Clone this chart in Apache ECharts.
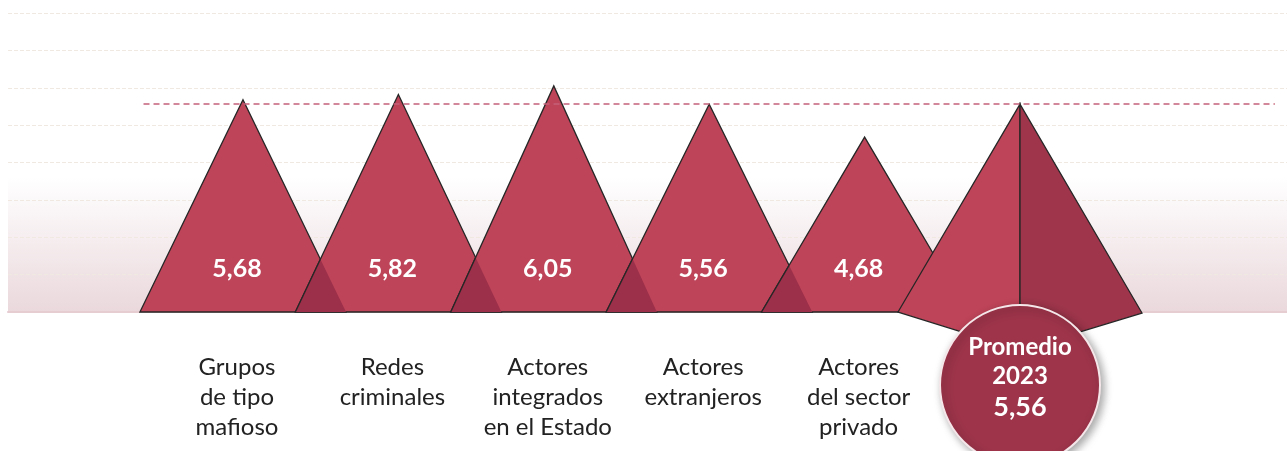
<!DOCTYPE html>
<html>
<head>
<meta charset="utf-8">
<script src="https://cdn.jsdelivr.net/npm/echarts@6/dist/echarts.min.js"></script>
<style>
  html, body { margin: 0; padding: 0; background: #fff; }
  #echart { width: 1287px; height: 451px; }
</style>
</head>
<body>
<div id="echart"></div>
<script>
const categories = ['Grupos\nde tipo\nmafioso', 'Redes\ncriminales', 'Actores\nintegrados\nen el Estado', 'Actores\nextranjeros', 'Actores\ndel sector\nprivado'];
const values = [5.68, 5.82, 6.05, 5.56, 4.68];
const averageTitle = 'Promedio\n2023';
const averageValue = 5.56;
const yTicks = [0, 1, 2, 3, 4, 5, 6, 7, 8];

const chart = echarts.init(document.getElementById('echart'));

const FILL = '#be4459';
const FILL_DARK = '#9c2f4a';
const EDGE = '#262626';

function fmt(v) {
    return v.toFixed(2).replace('.', ',');
}

// intersección de dos segmentos (como rectas)
function cross(a1, a2, b1, b2) {
    const d = (a1[0] - a2[0]) * (b1[1] - b2[1]) - (a1[1] - a2[1]) * (b1[0] - b2[0]);
    const t = ((a1[0] - b1[0]) * (b1[1] - b2[1]) - (a1[1] - b1[1]) * (b1[0] - b2[0])) / d;
    return [a1[0] + t * (a2[0] - a1[0]), a1[1] + t * (a2[1] - a1[1])];
}

function renderTriangle(params, api) {
    const i = api.value(0);
    const v = api.value(1);
    const top = api.coord([i, v]);
    const base = api.coord([i, 0]);
    const hw = api.size([1, 0])[0] * 0.663;
    const children = [{
        type: 'polygon',
        shape: { points: [[base[0] - hw, base[1]], top, [base[0] + hw, base[1]]] },
        style: { fill: FILL, stroke: EDGE, lineWidth: 1.3 }
    }];
    if (i > 0) {
        const pTop = api.coord([i - 1, values[i - 1]]);
        const pRight = [pTop[0] + hw, base[1]];
        const left = [base[0] - hw, base[1]];
        const x = cross(pTop, pRight, left, top);
        children.push({
            type: 'polygon',
            shape: { points: [left, x, pRight] },
            style: { fill: FILL_DARK }
        });
        children.push({
            type: 'line',
            shape: { x1: left[0], y1: left[1], x2: x[0], y2: x[1] },
            style: { stroke: EDGE, lineWidth: 1.3 }
        });
    }
    children.push({
        type: 'text',
        style: {
            text: fmt(v), x: base[0] - 6, y: base[1] - 43,
            align: 'center', verticalAlign: 'middle',
            font: 'bold 25px Lato', fill: '#fff'
        }
    });
    children.push({
        type: 'text',
        style: {
            text: categories[i], x: base[0] - 6, y: base[1] + 40,
            align: 'center', verticalAlign: 'top',
            font: '24px Lato', lineHeight: 30, fill: '#222'
        }
    });
    return { type: 'group', children: children };
}

function renderAverage(params, api) {
    const i = api.value(0);
    const v = api.value(1);
    const top = api.coord([i, v]);
    const base = api.coord([i, 0]);
    const hw = api.size([1, 0])[0] * 0.785;
    const front = [base[0], base[1] + 38];
    const cy = base[1] + 73;
    return {
        type: 'group',
        children: [
            {
                type: 'polygon',
                shape: { points: [top, [base[0] - hw, base[1]], front] },
                style: { fill: FILL, stroke: EDGE, lineWidth: 1.3 }
            },
            {
                type: 'polygon',
                shape: { points: [top, front, [base[0] + hw, base[1] + 1]] },
                style: { fill: '#9e354b', stroke: EDGE, lineWidth: 1.3 }
            },
            {
                type: 'circle',
                shape: { cx: base[0], cy: cy, r: 80 },
                style: {
                    fill: '#9d344a', stroke: '#f4e6e9', lineWidth: 2,
                    shadowBlur: 8, shadowOffsetX: 3, shadowOffsetY: 3,
                    shadowColor: 'rgba(0,0,0,0.35)'
                }
            },
            {
                type: 'text',
                style: {
                    text: averageTitle, x: base[0], y: cy - 23,
                    align: 'center', verticalAlign: 'middle',
                    font: 'bold 24px Lato', lineHeight: 29, fill: '#fff'
                }
            },
            {
                type: 'text',
                style: {
                    text: fmt(v), x: base[0], y: cy + 22,
                    align: 'center', verticalAlign: 'middle',
                    font: 'bold 27px Lato', fill: '#fff'
                }
            }
        ]
    };
}

const option = {
    animation: false,
    grid: {
        left: 8, right: 0, top: 13, bottom: 139,
        show: true, borderWidth: 0,
        backgroundColor: {
            type: 'linear', x: 0, y: 0, x2: 0, y2: 1,
            colorStops: [
                { offset: 0, color: '#ffffff' },
                { offset: 0.55, color: '#ffffff' },
                { offset: 1, color: '#ead8dc' }
            ]
        }
    },
    xAxis: {
        type: 'value', min: -1.512, max: 6.718,
        axisLine: { show: true, lineStyle: { color: '#e5cdd2', width: 2 } },
        axisTick: { show: false },
        axisLabel: { show: false },
        splitLine: { show: false }
    },
    yAxis: {
        type: 'value', min: yTicks[0], max: yTicks[yTicks.length - 1], interval: 1,
        axisLine: { show: false },
        axisTick: { show: false },
        axisLabel: { show: false },
        splitLine: { lineStyle: { color: '#efe9e1', type: [4, 2] } }
    },
    series: [
        {
            type: 'line',
            data: [],
            z: 1,
            markLine: {
                silent: true,
                symbol: 'none',
                label: { show: false },
                lineStyle: { color: '#c46079', type: [6, 4], width: 1.5 },
                data: [[{ coord: [-0.64, averageValue] }, { coord: [6.64, averageValue] }]]
            }
        },
        {
            type: 'custom',
            z: 3,
            clip: false,
            renderItem: renderTriangle,
            data: values.map((v, i) => [i, v])
        },
        {
            type: 'custom',
            z: 4,
            clip: false,
            renderItem: renderAverage,
            data: [[values.length, averageValue]]
        }
    ]
};

chart.setOption(option);
</script>
</body>
</html>
